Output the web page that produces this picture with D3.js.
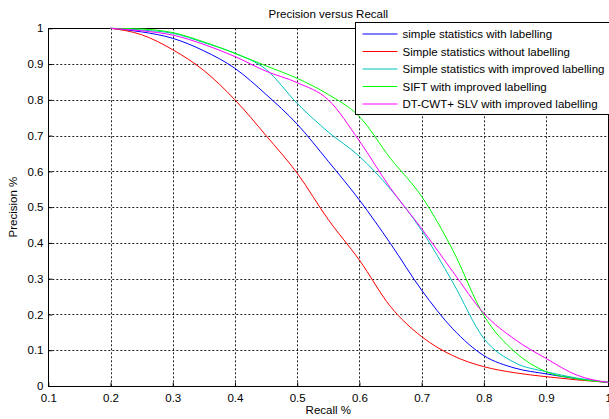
<!DOCTYPE html>
<html>
<head>
<meta charset="utf-8">
<script src="https://cdn.jsdelivr.net/npm/d3@7"></script>
<style>
  body { margin: 0; background: #fff; }
  svg { display: block; font-family: Arial, "Liberation Sans", sans-serif; }
</style>
</head>
<body>
<script>
const width = 609, height = 419;
const margin = ({ top: 28.3, right: 0.7, bottom: 33, left: 48.3 });
const fontSize = 11.5;

// recall sample points shared by all curves
const recall = [0.2, 0.25, 0.3, 0.35, 0.4, 0.45, 0.5, 0.55, 0.6, 0.65, 0.7, 0.75, 0.8, 0.85, 0.9, 0.95, 1.0];

const simpleLabelled   = [1, 0.99, 0.972, 0.937, 0.888, 0.815, 0.732, 0.628, 0.52, 0.398, 0.268, 0.16, 0.085, 0.05, 0.034, 0.02, 0.01];
const simpleUnlabelled = [1, 0.982, 0.94, 0.882, 0.80, 0.70, 0.595, 0.465, 0.352, 0.222, 0.138, 0.085, 0.054, 0.037, 0.026, 0.017, 0.01];
const simpleImproved   = [1, 0.995, 0.986, 0.96, 0.93, 0.885, 0.79, 0.71, 0.642, 0.55, 0.435, 0.29, 0.133, 0.065, 0.04, 0.022, 0.01];
const siftImproved     = [1, 0.998, 0.988, 0.962, 0.93, 0.895, 0.86, 0.815, 0.753, 0.636, 0.53, 0.38, 0.197, 0.095, 0.04, 0.02, 0.01];
const dtcwtImproved    = [1, 0.993, 0.981, 0.955, 0.921, 0.88, 0.848, 0.8, 0.685, 0.553, 0.44, 0.32, 0.203, 0.13, 0.077, 0.03, 0.01];

const seriesNames = [
  "simple statistics with labelling",
  "Simple statistics without labelling",
  "Simple statistics with improved labelling",
  "SIFT with improved labelling",
  "DT-CWT+ SLV with improved labelling"
];
const seriesColors = ["#0000ff", "#ff0000", "#00bfbf", "#00ff00", "#ff00ff"];
const seriesValues = [simpleLabelled, simpleUnlabelled, simpleImproved, siftImproved, dtcwtImproved];

const xTicks = [0.1, 0.2, 0.3, 0.4, 0.5, 0.6, 0.7, 0.8, 0.9, 1];
const yTicks = [0, 0.1, 0.2, 0.3, 0.4, 0.5, 0.6, 0.7, 0.8, 0.9, 1];

const x = d3.scaleLinear()
  .domain([0.1, 1])
  .range([margin.left, width - margin.right]);

const y = d3.scaleLinear()
  .domain([0, 1])
  .range([height - margin.bottom, margin.top]);

const svg = d3.select("body")
  .append("svg")
  .attr("width", width)
  .attr("height", height);

// grid
const grid = svg.append("g")
  .attr("stroke", "#222")
  .attr("stroke-dasharray", "2,2")
  .attr("stroke-width", 1);

grid.selectAll(".gx")
  .data(xTicks.slice(1, -1))
  .join("line")
  .attr("x1", d => Math.round(x(d)) + 0.5)
  .attr("x2", d => Math.round(x(d)) + 0.5)
  .attr("y1", y(1))
  .attr("y2", y(0));

grid.selectAll(".gy")
  .data(yTicks.slice(1, -1))
  .join("line")
  .attr("x1", x(0.1))
  .attr("x2", x(1))
  .attr("y1", d => Math.round(y(d)) + 0.5)
  .attr("y2", d => Math.round(y(d)) + 0.5);

// axes
const xAxis = g => g
  .attr("transform", `translate(0,${Math.round(y(0)) + 0.5})`)
  .call(d3.axisBottom(x).tickValues(xTicks).tickSize(-4).tickPadding(7)
    .tickFormat(d => d === 1 ? "1" : d3.format(".1f")(d)))
  .call(g => g.select(".domain").remove())
  .call(g => g.selectAll("text").attr("font-size", fontSize).attr("fill", "#000"));

const yAxis = g => g
  .attr("transform", `translate(${Math.round(x(0.1)) + 0.5},0)`)
  .call(d3.axisLeft(y).tickValues(yTicks).tickSize(-4).tickPadding(5)
    .tickFormat(d => (d === 0 || d === 1) ? String(d) : d3.format(".1f")(d)))
  .call(g => g.select(".domain").remove())
  .call(g => g.selectAll("text").attr("font-size", fontSize).attr("fill", "#000"));

svg.append("g").call(xAxis);
svg.append("g").call(yAxis);

// axes box
svg.append("rect")
  .attr("x", Math.round(x(0.1)) + 0.5)
  .attr("y", Math.round(y(1)) + 0.5)
  .attr("width", Math.round(x(1)) - Math.round(x(0.1)))
  .attr("height", Math.round(y(0)) - Math.round(y(1)))
  .attr("fill", "none")
  .attr("stroke", "#000");

// curves
const line = d3.line()
  .x((d, i) => x(recall[i]))
  .y(d => y(d))
  .curve(d3.curveMonotoneX);

svg.append("g")
  .selectAll("path")
  .data(seriesValues)
  .join("path")
  .attr("d", line)
  .attr("fill", "none")
  .attr("stroke", (d, i) => seriesColors[i])
  .attr("stroke-width", 1);

// labels
svg.append("text")
  .attr("x", (x(0.1) + x(1)) / 2)
  .attr("y", 18)
  .attr("text-anchor", "middle")
  .attr("font-size", fontSize)
  .text("Precision versus Recall");

svg.append("text")
  .attr("x", (x(0.1) + x(1)) / 2)
  .attr("y", 414)
  .attr("text-anchor", "middle")
  .attr("font-size", fontSize)
  .text("Recall %");

svg.append("text")
  .attr("transform", `translate(17,${(y(0) + y(1)) / 2}) rotate(-90)`)
  .attr("text-anchor", "middle")
  .attr("font-size", fontSize)
  .text("Precision %");

// legend
const legend = svg.append("g").attr("transform", "translate(355.5,22.5)");
legend.append("rect")
  .attr("width", 262)
  .attr("height", 92)
  .attr("fill", "#fff")
  .attr("stroke", "#000");

const rows = legend.selectAll(".row")
  .data(seriesNames)
  .join("g")
  .attr("transform", (d, i) => `translate(0,${11.5 + i * 17.5})`);

rows.append("line")
  .attr("x1", 7)
  .attr("x2", 42)
  .attr("stroke", (d, i) => seriesColors[i]);

rows.append("text")
  .attr("x", 47)
  .attr("dy", "0.35em")
  .attr("font-size", fontSize)
  .text(d => d);
</script>
</body>
</html>
